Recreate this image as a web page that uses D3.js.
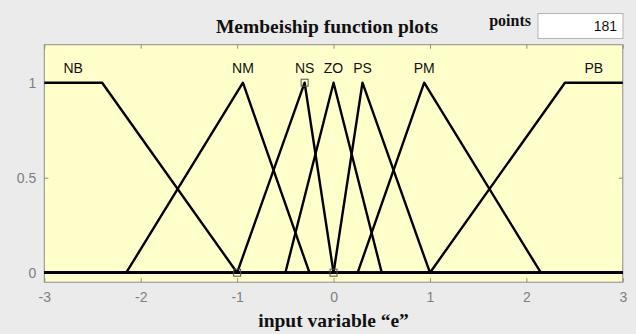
<!DOCTYPE html>
<html>
<head>
<meta charset="utf-8">
<script src="https://cdn.jsdelivr.net/npm/d3@7"></script>
<style>
    html, body { margin: 0; padding: 0; background: #ebebeb; }
    svg { display: block; }
</style>
</head>
<body>
<div id="chart"></div>
<script>
// membership functions of input variable "e"
const mfNames = ["NB", "NM", "NS", "ZO", "PS", "PM", "PB"];
const mfTypes = ["trapmf", "trimf", "trimf", "trimf", "trimf", "trimf", "trapmf"];
const mfParams = [
    [-3.6, -3, -2.4, -1],
    [-2.15, -0.94, -0.25],
    [-1, -0.3, 0],
    [-0.5, 0, 0.5],
    [0, 0.3, 1],
    [0.25, 0.94, 2.15],
    [1, 2.4, 3, 3.6]
];
const selectedMf = "NS";
const xRange = [-3, 3];
const xTicks = [-3, -2, -1, 0, 1, 2, 3];
const yTicks = [0, 0.5, 1];
const titleText = "Membeiship function plots";
const xLabelText = "input variable \u201ce\u201d";
const pointsValue = 181;

const width = 636, height = 334;
const margin = { top: 44.7, right: 13.2, bottom: 51.8, left: 44.3 };
const innerWidth = width - margin.left - margin.right;
const innerHeight = height - margin.top - margin.bottom;

const svg = d3.select("#chart").append("svg")
    .attr("width", width)
    .attr("height", height);

svg.append("rect")
    .attr("width", width)
    .attr("height", height)
    .attr("fill", "#ebebeb");

const g = svg.append("g")
    .attr("transform", `translate(${margin.left},${margin.top})`);

const x = d3.scaleLinear().domain(xRange).range([0, innerWidth]);
const y = d3.scaleLinear().domain([-0.05, 1.2]).range([innerHeight, 0]);

function evalMf(type, p, v) {
    if (type === "trimf") {
        const [a, b, c] = p;
        const l = b === a ? (v >= a ? 1 : 0) : (v - a) / (b - a);
        const r = c === b ? (v <= c ? 1 : 0) : (c - v) / (c - b);
        return Math.max(Math.min(l, r), 0);
    }
    const [a, b, c, d] = p;
    const l = b === a ? (v >= a ? 1 : 0) : (v - a) / (b - a);
    const r = d === c ? (v <= d ? 1 : 0) : (d - v) / (d - c);
    return Math.max(Math.min(l, 1, r), 0);
}

// plot area
g.append("rect")
    .attr("width", innerWidth)
    .attr("height", innerHeight)
    .attr("fill", "#ffffcc");

// axes (ticks point inward)
function styleAxis(sel) {
    sel.select(".domain").remove();
    sel.selectAll("line").attr("stroke", "#8c8c8c");
    sel.selectAll("text")
        .attr("fill", "#7f7f7f")
        .attr("font-family", "'Liberation Sans', Arial, sans-serif")
        .attr("font-size", "14px");
}

g.append("g")
    .attr("transform", `translate(0,${innerHeight})`)
    .call(d3.axisBottom(x).tickValues(xTicks).tickSize(-4).tickPadding(10).tickFormat(d => String(d)))
    .call(styleAxis);

g.append("g")
    .call(d3.axisTop(x).tickValues(xTicks).tickSize(-4))
    .call(styleAxis)
    .selectAll("text").remove();

g.append("g")
    .call(d3.axisLeft(y).tickValues(yTicks).tickSize(-4).tickPadding(8).tickFormat(d => String(d)))
    .call(styleAxis);

g.append("g")
    .attr("transform", `translate(${innerWidth},0)`)
    .call(d3.axisRight(y).tickValues(yTicks).tickSize(-4))
    .call(styleAxis)
    .selectAll("text").remove();

g.append("rect")
    .attr("width", innerWidth)
    .attr("height", innerHeight)
    .attr("fill", "none")
    .attr("stroke", "#8c8c8c")
    .attr("stroke-width", 1);

// membership function curves
const line = d3.line().x(d => x(d[0])).y(d => y(d[1]));

mfNames.forEach((name, i) => {
    const p = mfParams[i];
    const xs = [xRange[0], ...p.filter(v => v > xRange[0] && v < xRange[1]), xRange[1]]
        .sort((a, b) => a - b);
    const pts = xs.map(v => [v, evalMf(mfTypes[i], p, v)]);

    g.append("path")
        .datum(pts)
        .attr("d", line)
        .attr("fill", "none")
        .attr("stroke", "#000")
        .attr("stroke-width", 2.4)
        .attr("stroke-linejoin", "round");

    let cx;
    if (mfTypes[i] === "trimf") cx = p[1];
    else cx = (Math.max(p[1], xRange[0]) + Math.min(p[2], xRange[1])) / 2;

    g.append("text")
        .attr("x", x(cx))
        .attr("y", y(1) - 10)
        .attr("text-anchor", "middle")
        .attr("font-family", "'Liberation Sans', Arial, sans-serif")
        .attr("font-size", "14px")
        .attr("fill", "#111")
        .text(name);
});

// handles on the selected membership function
const selIdx = mfNames.indexOf(selectedMf);
const selP = mfParams[selIdx];
g.selectAll("rect.handle")
    .data(selP.map(v => [v, evalMf(mfTypes[selIdx], selP, v)]))
    .enter()
    .append("rect")
    .attr("class", "handle")
    .attr("x", d => x(d[0]) - 3.5)
    .attr("y", d => y(d[1]) - 3.5)
    .attr("width", 7)
    .attr("height", 7)
    .attr("fill", "none")
    .attr("stroke", "#555")
    .attr("stroke-width", 1);

// title and x label
svg.append("text")
    .attr("x", 327)
    .attr("y", 33)
    .attr("text-anchor", "middle")
    .attr("font-family", "'Liberation Serif', 'Times New Roman', serif")
    .attr("font-weight", "bold")
    .attr("font-size", "19.5px")
    .attr("fill", "#111")
    .text(titleText);

svg.append("text")
    .attr("x", margin.left + x(0))
    .attr("y", 327)
    .attr("text-anchor", "middle")
    .attr("font-family", "'Liberation Serif', 'Times New Roman', serif")
    .attr("font-weight", "bold")
    .attr("font-size", "19.5px")
    .attr("fill", "#111")
    .text(xLabelText);

// points box
svg.append("text")
    .attr("x", 531)
    .attr("y", 26)
    .attr("text-anchor", "end")
    .attr("font-family", "'Liberation Serif', 'Times New Roman', serif")
    .attr("font-weight", "bold")
    .attr("font-size", "16px")
    .attr("fill", "#111")
    .text("points");

svg.append("rect")
    .attr("x", 538)
    .attr("y", 13.5)
    .attr("width", 85)
    .attr("height", 25)
    .attr("fill", "#fff")
    .attr("stroke", "#b5b5b5");

svg.append("text")
    .attr("x", 617)
    .attr("y", 31)
    .attr("text-anchor", "end")
    .attr("font-family", "'Liberation Sans', Arial, sans-serif")
    .attr("font-size", "14px")
    .attr("fill", "#111")
    .text(pointsValue);
</script>
</body>
</html>
